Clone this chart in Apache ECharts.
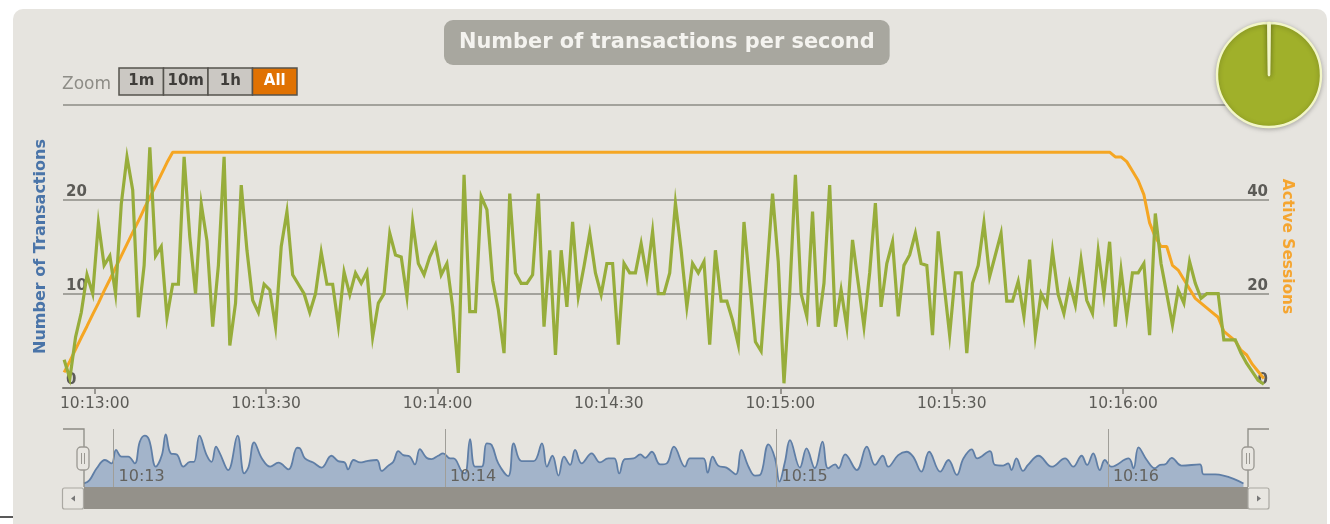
<!DOCTYPE html>
<html><head><meta charset="utf-8">
<style>
html,body{margin:0;padding:0;background:#fff;width:1330px;height:524px;overflow:hidden}
#panel{position:absolute;left:13px;top:9px;width:1314px;height:530px;background:#e6e4df;border-radius:10px}
#chart{position:absolute;left:0;top:0;width:1330px;height:524px}
</style>
<script src="https://cdn.jsdelivr.net/npm/echarts@6/dist/echarts.min.js"></script>
</head><body><div id="panel"></div><div id="chart"></div>
<script>
const chartTitle = 'Number of transactions per second';
const leftAxisName = 'Number of Transactions';
const rightAxisName = 'Active Sessions';
const firstSample = '10:12:54.64';
const mainTicks = ['10:13:00','10:13:30','10:14:00','10:14:30','10:15:00','10:15:30','10:16:00'];
const navTicks = ['10:13','10:14','10:15','10:16'];
const zoomButtons = ['1m','10m','1h','All'];
const transactions = [
3,1,5.4,8,12,10,17.5,13,14,10,19.5,24.5,21,7.5,13,25.5,14,15,7.5,11,
11,24.5,16,10,19.5,15.6,6.5,13,24.5,4.5,9,21.5,14.6,9.3,8,11,10.4,6.5,15,18.7,
12,11,10,8,10,14.4,11,11,6.6,12.3,9.9,12.2,11.1,12.3,5.4,9,10,16.4,14.1,13.9,
9.7,17.6,13.2,12,13.9,15.2,12,13.2,8.6,1.6,22.6,8.1,8.1,20.3,18.9,11.4,8.3,3.7,20.6,12.2,
11.1,11.1,12,20.6,6.5,14.6,3.5,14.6,8.6,17.6,9.7,12.9,16.4,12.2,9.9,13.2,13.2,4.6,13.2,12.2,
12.2,15.3,11.8,16.6,10,10,12.2,19.6,14.6,8.6,13.2,12.2,13.4,4.6,14.6,9.2,9.2,7.2,4.6,17.6,
11.1,4.9,3.9,12.2,20.6,13.4,0.5,10,22.6,10,7.6,18.7,6.5,11.1,21.5,6.5,10.4,6.5,15.7,11.1,
6.5,12.2,19.6,8.6,13.2,15.5,7.6,13,14.1,16.4,13.2,13,5.6,16.6,11.1,5.6,12.2,12.2,3.7,11.1,
13,17.5,11.8,14.1,16.4,9.2,9.2,11.3,7.6,13.6,5.6,10,8.8,14.5,9.9,7.9,11.1,8.8,13.6,9.3,
7.9,14.5,9.9,15.5,6.5,12.5,7.6,12.2,12.2,13.2,5.6,18.5,13.2,10,6.7,10.4,9,13.4,11.1,9.5,
10,10,10,5.1,5.1,5.1,3.7,2.6,1.7,0.8,0.4];
const sessions = [
3.3,5.7,8.2,10.7,13.1,15.6,18,20.6,23,25.5,28,30.5,33,35.4,38,40.4,42.8,45.3,47.8,50,
50,50,50,50,50,50,50,50,50,50,50,50,50,50,50,50,50,50,50,50,
50,50,50,50,50,50,50,50,50,50,50,50,50,50,50,50,50,50,50,50,
50,50,50,50,50,50,50,50,50,50,50,50,50,50,50,50,50,50,50,50,
50,50,50,50,50,50,50,50,50,50,50,50,50,50,50,50,50,50,50,50,
50,50,50,50,50,50,50,50,50,50,50,50,50,50,50,50,50,50,50,50,
50,50,50,50,50,50,50,50,50,50,50,50,50,50,50,50,50,50,50,50,
50,50,50,50,50,50,50,50,50,50,50,50,50,50,50,50,50,50,50,50,
50,50,50,50,50,50,50,50,50,50,50,50,50,50,50,50,50,50,50,50,
50,50,50,50,49,49,48,46,44,41,35,32,30,30,26,25,23,21,19,18,
17,16,15,12,11,10,8,7,5,3.5,2];
const navSeconds = [
0,1,2.3,3.8,5,5.8,6.8,8,9.2,10.1,11,11.8,13,14.1,14.8,15.7,16.8,18,19.2,19.9,
20.9,22.2,23.1,23.9,24.6,26.1,27.8,29,29.8,30.8,32.2,33.7,35.2,37,38.6,
39.1,40,41.5,43,44.8,46,47.2,47.8,48.8,50,51.2,53,53.9,55.1,56,56.9,57.8,59,59.9,60.8,62,62.9,64.1,65,66.3,
66.9,68.4,69,69.9,70.8,72,72.9,73.8,75,76.8,77.8,79.2,81.4,82.9,83.8,84.8,85.9,86.9,88,88.9,90.1,91.9,93.4,94.9,96,96.9,97.9,99.5,100.7,101.6,102.8,
104.3,105.5,106.8,108.8,109.7,112.1,112.9,113.8,114.8,116.3,118,119,120.3,121.5,122.4,123.9,125.1,125.9,126.9,127.8,129.6,130.8,132.3,133.7,134.7,136,136.6,137.8,139.9,141.7,143.2,144.6,
145.6,147.4,148.9,150.1,151.6,153,155,156.5,158,159.2,160.7,161.7,164,164.9,166.4,167.3,167.9,168.8,170,170.9,172.8,175.2,177.6,179.1,180.6,181.6,182.7,183.9,184.8,186,189.1,190,190.9,192.4,193.9,194.8,195.7,196.9,198.7,202,202.7,204.8,209.9];
const navValues = [
1.6,3.1,8.4,12.1,10.6,16.6,13.6,13.6,10.6,20.3,23,21,9.1,14.3,23.6,15.1,14.6,9.1,11.3,11.3,
23,14.3,11.3,18.1,15.1,7.6,23,6.1,9.1,20,12.8,9.1,10.9,7.9,17.6,
17.3,12.8,11,8.7,14,11.6,11,7.9,12.1,11,11.6,12.1,7.2,9.6,11.3,16.1,14.3,13.6,10.1,17,13.1,12.5,14,15.1,12.8,
12.8,6.9,6.1,21.5,9.1,9.1,19.6,18.8,10.6,4.9,19.6,11.6,11.6,19.6,9.1,14,5.1,13.6,9.9,16.6,10.6,15.1,11,12.8,12.8,6.1,12.5,12.8,14.6,13.1,15.8,
10.1,10.6,18.1,9.1,12.8,12.8,6.4,13.6,9.6,8.7,5.7,16.6,9.1,5.1,5.4,19.1,12.8,2.4,11.3,21,8.7,17.3,8.4,20.3,8.4,10.1,8.4,14.6,7.6,18.1,9.9,14,
9.1,14.3,15.8,13.6,6.9,15.8,6.9,12.1,5.4,12.8,16.9,12.8,16.1,9.9,9.6,10.6,7.6,12.8,7.2,9.9,14,9.1,12.8,9.1,14,9.9,15.1,7.6,12.1,9.1,12.8,8.4,17.8,12.1,8.4,9.9,10.1,13.1,9.6,10.1,5.7,5.7,1.6];
const gaugeSlices = [996,4];

const secs = s => { const p = s.split(':').map(Number); return p[0]*3600 + p[1]*60 + (p[2]||0); };
const start = secs(firstSample);
const pad = n => String(n).padStart(2,'0');
const fmtLong = v => { const r = Math.round(v); return pad(Math.floor(r/3600))+':'+pad(Math.floor(r/60)%60)+':'+pad(r%60); };
const fmtShort = v => fmtLong(v).slice(0,5);
const txPts = transactions.map((v,i)=>[start+i,v]);
const ssPts = sessions.map((v,i)=>[start+i,v]);
const navPts = navValues.map((v,i)=>[start+navSeconds[i],v]);

const F = 'DejaVu Sans';
const grey = '#a3a29c';
const btnW = 44.5, btnX = 119, btnY = 68, btnH = 27;
const graphic = [
 {type:'line',shape:{x1:0,y1:517,x2:13,y2:517},style:{stroke:'#222',lineWidth:1.5}},
 {type:'text',left:62,top:76,style:{text:'Zoom',fill:'#8e8d87',font:'17px '+F}},
 ...zoomButtons.flatMap((b,i)=>[
  {type:'rect',shape:{x:btnX+i*btnW,y:btnY,width:btnW,height:btnH},
   style:{fill:b==='All'?'#e07203':'#cbc8c3',stroke:'#55534e',lineWidth:1.5}},
  {type:'text',x:btnX+i*btnW+btnW/2,y:btnY+btnH/2,
   style:{text:b,fill:b==='All'?'#fff':'#3f3d3a',font:'bold 15px '+F,align:'center',verticalAlign:'middle'}}
 ]),
 {type:'polyline',shape:{points:[[63,429],[84,429],[84,487]]},style:{stroke:'#8d8b85',lineWidth:1.3,fill:null},z:6},
 {type:'polyline',shape:{points:[[1269,429],[1248,429],[1248,487]]},style:{stroke:'#8d8b85',lineWidth:1.3,fill:null},z:6},
 {type:'rect',shape:{x:84,y:487,width:1164,height:22},style:{fill:'#94918a'},z:6},
 {type:'rect',shape:{x:62.5,y:488,width:21,height:21,r:2},style:{fill:'#e8e6e1',stroke:'#aaa8a2',lineWidth:1.2},z:6},
 {type:'rect',shape:{x:1248,y:488,width:21,height:21,r:2},style:{fill:'#e8e6e1',stroke:'#aaa8a2',lineWidth:1.2},z:6},
 {type:'polygon',shape:{points:[[71,498.5],[75,495.5],[75,501.5]]},style:{fill:'#777'},z:7},
 {type:'polygon',shape:{points:[[1261,498.5],[1257,495.5],[1257,501.5]]},style:{fill:'#777'},z:7},
 ...[77,1242].flatMap(x=>[
  {type:'rect',shape:{x:x,y:447,width:12,height:23,r:4},style:{fill:'#e8e6e1',stroke:'#9a9892',lineWidth:1.3},z:8},
  {type:'line',shape:{x1:x+4.5,y1:453,x2:x+4.5,y2:464},style:{stroke:'#9a9892',lineWidth:1},z:9},
  {type:'line',shape:{x1:x+7.5,y1:453,x2:x+7.5,y2:464},style:{stroke:'#9a9892',lineWidth:1},z:9}
 ])
];

const chart = echarts.init(document.getElementById('chart'),null,{renderer:'canvas'});
chart.setOption({
 animation:false,
 backgroundColor:'transparent',
 title:{text:chartTitle,left:444,top:20,padding:[12,15,12,15],backgroundColor:'#a8a79f',borderRadius:9,
  textStyle:{color:'#f4f3ef',fontFamily:F,fontWeight:'bold',fontSize:20.9}},
 grid:[{left:63,width:1206,top:105,height:283},{left:84,width:1160,top:429,height:58}],
 xAxis:[
  {type:'value',gridIndex:0,min:start-0.2,max:start+210.9,splitLine:{show:false},
   axisLine:{onZero:false,lineStyle:{color:'#807e79',width:2}},
   axisTick:{length:6,lineStyle:{color:'#807e79',width:1.5},customValues:mainTicks.map(secs)},
   axisLabel:{customValues:mainTicks.map(secs),formatter:fmtLong,color:'#5c5b57',fontFamily:F,fontSize:15.5,margin:8}},
  {type:'value',gridIndex:1,min:start,max:start+210,z:5,splitLine:{show:false},
   axisLine:{show:false},
   axisTick:{inside:true,length:58,lineStyle:{color:'#a09e98',width:1},customValues:navTicks.map(secs)},
   axisLabel:{inside:true,customValues:navTicks.map(secs),formatter:fmtShort,color:'#63625e',fontFamily:F,fontSize:16,align:'left',margin:2,padding:[0,0,0,5]}}
 ],
 yAxis:[
  {type:'value',gridIndex:0,min:0,max:30,interval:10,
   name:leftAxisName,nameLocation:'middle',nameRotate:90,nameGap:14,
   nameTextStyle:{color:'#4a74a8',fontFamily:F,fontWeight:'bold',fontSize:16},
   axisLine:{show:false},axisTick:{show:false},
   splitLine:{lineStyle:{color:grey,width:2}},
   axisLabel:{inside:true,margin:3,color:'#5c5b57',fontFamily:F,fontWeight:'bold',fontSize:15,verticalAlign:'bottom',
     formatter:v=>v===30?'':String(v)}},
  {type:'value',gridIndex:0,position:'right',min:0,max:60,interval:20,
   name:rightAxisName,nameLocation:'middle',nameRotate:-90,nameGap:10,
   nameTextStyle:{color:'#f5a530',fontFamily:F,fontWeight:'bold',fontSize:15.4},
   axisLine:{show:false},axisTick:{show:false},splitLine:{show:false},
   axisLabel:{inside:true,margin:1,color:'#5c5b57',fontFamily:F,fontWeight:'bold',fontSize:15,verticalAlign:'bottom',
     formatter:v=>v===60?'':String(v)}},
  {type:'value',gridIndex:1,min:0,max:26,show:false}
 ],
 series:[
  {type:'line',name:rightAxisName,xAxisIndex:0,yAxisIndex:1,data:ssPts,showSymbol:false,silent:true,z:3,
   lineStyle:{color:'#f5a623',width:3}},
  {type:'line',name:leftAxisName,xAxisIndex:0,yAxisIndex:0,data:txPts,showSymbol:false,silent:true,z:4,
   lineStyle:{color:'#97ad3b',width:3.2,join:'miter'}},
  {type:'line',name:'navigator',xAxisIndex:1,yAxisIndex:2,data:navPts,showSymbol:false,silent:true,smooth:0.4,z:2,
   lineStyle:{color:'#5f7ea6',width:1.8},areaStyle:{color:'#a3b4ca',opacity:1}},
  {type:'pie',center:[1269,75],radius:[0,52],startAngle:89.28,silent:true,z:10,label:{show:false},labelLine:{show:false},
   data:gaugeSlices.map((v,i)=>({value:v,itemStyle:{color:i?'#f2f6c8':'#a0b02a'}})),
   itemStyle:{borderColor:'#f2f6c8',borderWidth:2.4,shadowBlur:5,shadowColor:'rgba(0,0,0,0.25)',shadowOffsetY:1}}
 ],
 graphic:graphic
});
</script></body></html>
